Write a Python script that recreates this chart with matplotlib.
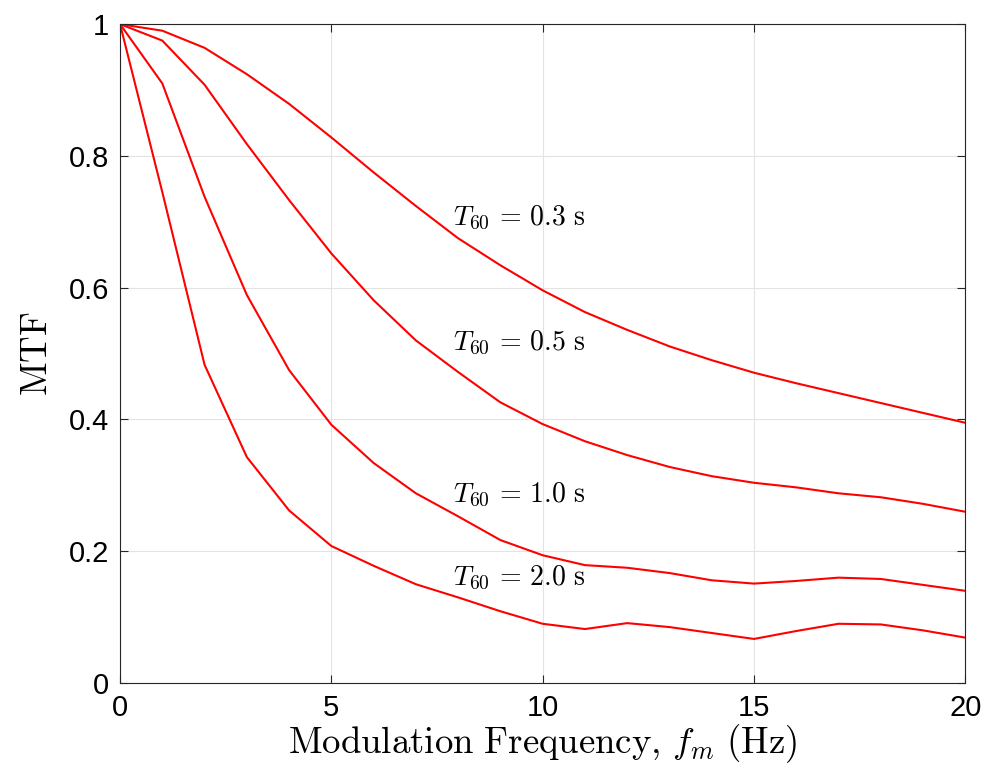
import numpy as np
import matplotlib
matplotlib.use("Agg")
import matplotlib.pyplot as plt

plt.rcParams['mathtext.fontset'] = 'cm'
plt.rcParams['font.family'] = ['Liberation Sans', 'DejaVu Sans']

fm = list(range(0, 21))
mtf_03 = [1.0, 0.990, 0.964, 0.924, 0.879, 0.828, 0.775, 0.724, 0.675, 0.634, 0.596,
          0.563, 0.536, 0.511, 0.490, 0.471, 0.455, 0.440, 0.425, 0.410, 0.395]
mtf_05 = [1.0, 0.975, 0.908, 0.818, 0.733, 0.652, 0.581, 0.520, 0.472, 0.426, 0.393,
          0.367, 0.346, 0.328, 0.314, 0.304, 0.297, 0.288, 0.282, 0.272, 0.260]
mtf_10 = [1.0, 0.910, 0.738, 0.589, 0.475, 0.392, 0.334, 0.288, 0.253, 0.217, 0.194,
          0.179, 0.175, 0.167, 0.156, 0.151, 0.155, 0.160, 0.158, 0.149, 0.140]
mtf_20 = [1.0, 0.745, 0.483, 0.343, 0.262, 0.208, 0.178, 0.150, 0.130, 0.109, 0.090,
          0.082, 0.091, 0.085, 0.076, 0.067, 0.079, 0.090, 0.089, 0.080, 0.069]

labels = [r"$T_{60}\,=\,0.3\ \mathrm{s}$", r"$T_{60}\,=\,0.5\ \mathrm{s}$",
          r"$T_{60}\,=\,1.0\ \mathrm{s}$", r"$T_{60}\,=\,2.0\ \mathrm{s}$"]
label_x = [7.88, 7.88, 7.88, 7.88]
label_y = [0.706, 0.516, 0.285, 0.159]

fig = plt.figure(figsize=(9.84, 7.78), dpi=100)
ax = fig.add_axes([0.122, 0.122, 0.859, 0.847])

for y in [mtf_03, mtf_05, mtf_10, mtf_20]:
    ax.plot(fm, y, color='red', lw=1.5)

for lx, ly, s in zip(label_x, label_y, labels):
    ax.text(lx, ly, s, fontsize=20, va='center', ha='left')

ax.set_xlim(0, 20)
ax.set_ylim(0, 1)
ax.set_xticks([0, 5, 10, 15, 20])
ax.set_yticks([0, 0.2, 0.4, 0.6, 0.8, 1.0])
ax.set_yticklabels(['0', '0.2', '0.4', '0.6', '0.8', '1'])
ax.grid(True, color='#e3e3e3', lw=0.8)
ax.set_axisbelow(True)
ax.tick_params(direction='in', top=True, right=True, labelsize=21,
               length=6, color='#262626', pad=8)
for sp in ax.spines.values():
    sp.set_color('#262626')
    sp.set_linewidth(0.8)

ax.set_xlabel(r"$\mathrm{Modulation\ Frequency,}\,f_m\ \mathrm{(Hz)}$", fontsize=26.5, labelpad=0)
ax.set_ylabel(r"$\mathrm{MTF}$", fontsize=26.5, labelpad=10)

fig.savefig("out.png", dpi=100)
